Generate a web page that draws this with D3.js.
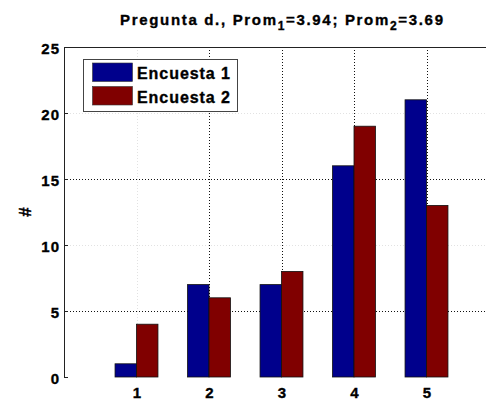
<!DOCTYPE html>
<html>
<head>
<meta charset="utf-8">
<script src="https://cdn.jsdelivr.net/npm/d3@7"></script>
<style>
  html, body { margin: 0; padding: 0; background: #fff; }
  svg { display: block; }
  text { font-family: "Liberation Sans", Arial, Helvetica, sans-serif; font-weight: bold; fill: #000;
         stroke: #000; stroke-width: 0.35px; }
</style>
</head>
<body>
<svg id="chart" width="486" height="401"></svg>
<script>
// Survey answers per option (1..5) for the two survey rounds
const categories = [1, 2, 3, 4, 5];
const encuesta1 = [1, 7, 7, 16, 21];
const encuesta2 = [4, 6, 8, 19, 13];
const seriesNames = ["Encuesta 1", "Encuesta 2"];
const seriesColors = ["#00008c", "#800000"];
const yTicks = [0, 5, 10, 15, 20, 25];
const prom1 = "3.94";
const prom2 = "3.69";

const svg = d3.select("#chart");

const x = d3.scaleLinear().domain([0, 6]).range([64, 499]);
const y = d3.scaleLinear().domain([0, 25]).range([377, 47]);
const barW = 0.296; // bar width in category units

const px = v => Math.round(v) + 0.5;

// grid: lines drawn faint where the printout lost them
const faintY = new Set([10, 20]);
const faintX = new Set([1]);
const grid = svg.append("g");
yTicks.filter(t => t > 0 && t < 25).forEach(t => {
  grid.append("line")
    .attr("x1", x(0)).attr("x2", 486)
    .attr("y1", px(y(t))).attr("y2", px(y(t)))
    .attr("stroke", faintY.has(t) ? "#e2e2e2" : "#111")
    .attr("stroke-dasharray", "1,2");
});
categories.forEach(c => {
  grid.append("line")
    .attr("x1", px(x(c))).attr("x2", px(x(c)))
    .attr("y1", y(25)).attr("y2", y(0))
    .attr("stroke", faintX.has(c) ? "#e2e2e2" : "#111")
    .attr("stroke-dasharray", "1,2");
});

// bars
const series = [encuesta1, encuesta2];
series.forEach((vals, si) => {
  svg.append("g").selectAll("rect")
    .data(categories.map((c, i) => ({ c, v: vals[i] })))
    .join("rect")
    .attr("x", d => x(d.c + (si === 0 ? -barW : 0)))
    .attr("width", x(barW) - x(0))
    .attr("y", d => y(d.v))
    .attr("height", d => y(0) - y(d.v))
    .attr("fill", seriesColors[si])
    .attr("stroke", "#111")
    .attr("stroke-width", 0.8);
});

// axes: left spine and top box edge, ticks pointing inward
const ax = svg.append("g");
ax.append("line").attr("x1", px(x(0))).attr("x2", px(x(0)))
  .attr("y1", y(25)).attr("y2", y(0)).attr("stroke", "#222");
ax.append("line").attr("x1", x(0)).attr("x2", 486)
  .attr("y1", px(y(25))).attr("y2", px(y(25))).attr("stroke", "#222");
yTicks.forEach(t => {
  ax.append("line").attr("x1", x(0)).attr("x2", x(0) + 4)
    .attr("y1", px(y(t))).attr("y2", px(y(t))).attr("stroke", "#222");
});

const yAxis = d3.axisLeft(y).tickValues(yTicks).tickSize(0).tickPadding(4);
const gy = svg.append("g").attr("transform", `translate(${x(0)},0)`).call(yAxis);
gy.select(".domain").remove();
gy.selectAll("text").attr("font-size", 15).attr("dy", "0.45em").attr("letter-spacing", 1)
  .style("font-family", '"Liberation Sans", Arial, sans-serif').style("font-weight", "bold");

const xAxis = d3.axisBottom(x).tickValues(categories).tickFormat(d3.format("d")).tickSize(0).tickPadding(10);
const gx = svg.append("g").attr("transform", `translate(0,${y(0)})`).call(xAxis);
gx.select(".domain").remove();
gx.selectAll("text").attr("font-size", 15).attr("dy", "0.71em")
  .style("font-family", '"Liberation Sans", Arial, sans-serif').style("font-weight", "bold");

// y label
svg.append("text")
  .attr("transform", `translate(31,${(y(0) + y(25)) / 2}) rotate(-90)`)
  .attr("text-anchor", "middle")
  .attr("font-size", 17)
  .text("#");

// title with subscripts
const title = svg.append("text").attr("x", 120).attr("y", 25).attr("font-size", 15);
title.append("tspan").text("Pregunta d., Prom");
title.append("tspan").attr("font-size", 12).attr("dy", 5).text("1");
title.append("tspan").attr("dy", -5).text("=" + prom1 + "; Prom");
title.append("tspan").attr("font-size", 12).attr("dy", 5).text("2");
title.append("tspan").attr("dy", -5).text("=" + prom2);
{
  const natural = title.node().getComputedTextLength();
  const n = title.text().length;
  title.attr("letter-spacing", ((323 - natural) / (n - 1)).toFixed(3));
}

// legend
const lg = svg.append("g");
lg.append("rect").attr("x", 83.5).attr("y", 59.5).attr("width", 154).attr("height", 52)
  .attr("fill", "#fff").attr("stroke", "#444");
seriesNames.forEach((name, i) => {
  const top = 63 + i * 23.5;
  lg.append("rect").attr("x", 92.5).attr("y", top).attr("width", 40).attr("height", 18.5)
    .attr("fill", seriesColors[i]).attr("stroke", "#333").attr("stroke-width", 0.6);
  lg.append("text").attr("x", 137).attr("y", top + 16).attr("font-size", 16)
    .attr("textLength", 93).attr("lengthAdjust", "spacing").text(name);
});
</script>
</body>
</html>
